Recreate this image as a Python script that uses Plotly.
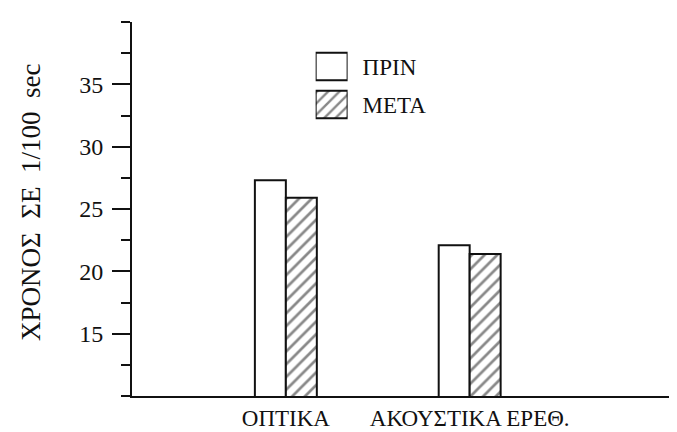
import plotly.graph_objects as go

categories = ["ΟΠΤΙΚΑ", "ΑΚΟΥΣΤΙΚΑ ΕΡΕΘ."]
before_vals = [27.3, 22.1]   # ΠΡΙΝ
after_vals = [25.9, 21.4]    # ΜΕΤΑ
series_names = ["ΠΡΙΝ", "ΜΕΤΑ"]
y_tickvals = [15, 20, 25, 30, 35]
y_title = "ΧΡΟΝΟΣ  ΣΕ  1/100  sec"

FONT = "Liberation Serif"
INK = "#111111"

fig = go.Figure()

fig.add_trace(go.Bar(
    x=categories, y=before_vals, name=series_names[0],
    marker=dict(color="white", line=dict(color=INK, width=2)),
    showlegend=False,
))
fig.add_trace(go.Bar(
    x=categories, y=after_vals, name=series_names[1],
    marker=dict(color="white", line=dict(color=INK, width=2),
                pattern=dict(shape="/", fgcolor=INK, bgcolor="white",
                             size=9, solidity=0.3)),
    showlegend=False,
))

# legend drawn as an inset of two horizontal bars
fig.add_trace(go.Bar(
    y=[series_names[0]], x=[1], orientation="h", xaxis="x2", yaxis="y2",
    width=0.72, offset=-0.36,
    marker=dict(color="white", line=dict(color=INK, width=2)),
    showlegend=False, hoverinfo="skip",
))
fig.add_trace(go.Bar(
    y=[series_names[1]], x=[1], orientation="h", xaxis="x2", yaxis="y2",
    width=0.72, offset=-0.36,
    marker=dict(color="white", line=dict(color=INK, width=2),
                pattern=dict(shape="/", fgcolor=INK, bgcolor="white",
                             size=8, solidity=0.3)),
    showlegend=False, hoverinfo="skip",
))

fig.update_layout(
    width=677, height=432,
    margin=dict(l=124, r=1, t=14, b=44),
    paper_bgcolor="white", plot_bgcolor="white",
    font=dict(family=FONT, color=INK),
    barmode="group", bargap=0.663, bargroupgap=0,
    xaxis=dict(
        type="category", range=[-0.837, 2.166], automargin=False,
        showline=True, linecolor=INK, linewidth=2,
        ticks="", showgrid=False, zeroline=False,
        tickfont=dict(size=23, family=FONT, color=INK),
        ticklabelstandoff=0,
    ),
    yaxis=dict(
        range=[10, 40], tickvals=y_tickvals, automargin=False,
        showline=True, linecolor=INK, linewidth=2,
        ticks="outside", ticklen=18, tickwidth=1.5, tickcolor=INK,
        minor=dict(ticks="outside", ticklen=9, tick0=10, dtick=2.5,
                   tickwidth=1.5, tickcolor=INK, showgrid=False),
        showgrid=False, zeroline=False,
        tickfont=dict(size=24, family=FONT, color=INK),
        ticklabelstandoff=4,
    ),
    xaxis2=dict(domain=[0.3327, 0.3906], anchor="y2", range=[0, 1],
                visible=False, fixedrange=True),
    yaxis2=dict(domain=[0.7286, 0.932], anchor="x2", type="category",
                categoryorder="array", categoryarray=[series_names[1], series_names[0]],
                range=[-0.5, 1.5], side="right", showline=False, ticks="",
                showgrid=False, zeroline=False, ticklabelstandoff=14,
                automargin=False,
                tickfont=dict(size=23, family=FONT, color=INK)),
    annotations=[dict(
        text=y_title, textangle=-90, xref="paper", yref="paper",
        x=0, y=0.5, xanchor="center", yanchor="middle",
        xshift=-101, yshift=6, showarrow=False,
        font=dict(size=27, family=FONT, color=INK),
    )],
)

fig.write_html("out.html")
